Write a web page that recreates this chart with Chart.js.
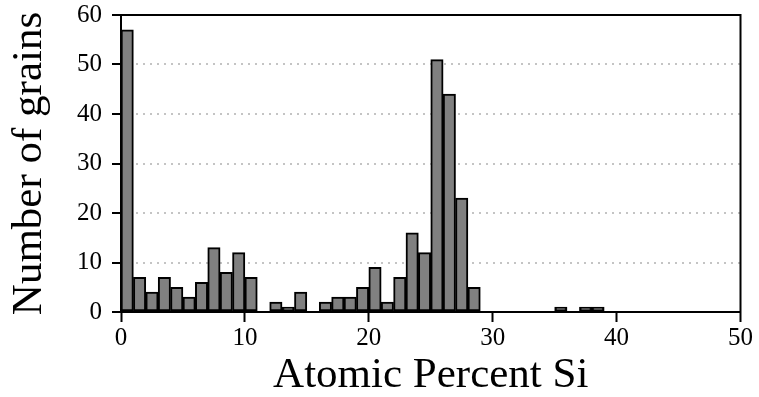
<!DOCTYPE html>
<html>
<head>
<meta charset="utf-8">
<script src="https://cdn.jsdelivr.net/npm/chart.js@4"></script>
<style>
  html, body { margin: 0; padding: 0; background: #fff; }
  #wrap { width: 759px; height: 397px; }
</style>
</head>
<body>
<div id="wrap"><canvas id="histo"></canvas></div>
<script>
// histogram bins: 1 at.% wide, from 0 to 50
const binStarts = Array.from({ length: 50 }, (_, i) => i);
const grainCounts = [
  57, 7, 4, 7, 5, 3, 6, 13, 8, 12,
  7, 0, 2, 1, 4, 0, 2, 3, 3, 5,
  9, 2, 7, 16, 12, 51, 44, 23, 5, 0,
  0, 0, 0, 0, 0, 1, 0, 1, 1, 0,
  0, 0, 0, 0, 0, 0, 0, 0, 0, 0
];
const xTicks = [0, 10, 20, 30, 40, 50];
const yTicks = [0, 10, 20, 30, 40, 50, 60];

const serif = "'Liberation Serif', 'Times New Roman', serif";

// box round the plot (top + right edges)
const frame = {
  id: 'frame',
  afterDraw(chart) {
    const { ctx, chartArea: a } = chart;
    ctx.save();
    ctx.strokeStyle = '#000';
    ctx.lineWidth = 2;
    ctx.strokeRect(a.left, a.top, a.right - a.left, a.bottom - a.top);
    ctx.restore();
  }
};

const ctx = document.getElementById('histo').getContext('2d');
new Chart(ctx, {
  type: 'bar',
  data: {
    datasets: [{
      data: binStarts.map((b, i) => ({ x: b + 0.5, y: grainCounts[i] })),
      backgroundColor: '#808080',
      borderColor: '#000',
      borderWidth: 2,
      borderSkipped: false,
      barPercentage: 1,
      categoryPercentage: 1
    }]
  },
  options: {
    responsive: true,
    maintainAspectRatio: false,
    animation: false,
    layout: { padding: { top: 14, right: 15, left: 8, bottom: 0 } },
    plugins: { legend: { display: false }, tooltip: { enabled: false } },
    scales: {
      x: {
        type: 'linear',
        min: 0,
        max: 50,
        offset: false,
        afterBuildTicks: s => { s.ticks = xTicks.map(v => ({ value: v })); },
        ticks: { color: '#000', font: { family: serif, size: 25, lineHeight: 0.8 }, padding: 6, maxRotation: 0 },
        grid: { offset: false, drawOnChartArea: false, tickLength: 10, tickColor: '#000', tickWidth: 2 },
        border: { color: '#000', width: 2 },
        title: {
          display: true,
          text: 'Atomic Percent Si',
          color: '#000',
          font: { family: serif, size: 43, lineHeight: 1 },
          padding: { top: 0, bottom: 0 }
        }
      },
      y: {
        min: 0,
        max: 60,
        afterBuildTicks: s => { s.ticks = yTicks.map(v => ({ value: v })); },
        // small lineHeight only trims the layout room kept above "60"
        ticks: { color: '#000', font: { family: serif, size: 25, lineHeight: 0.4 }, padding: 10 },
        grid: {
          color: c => (c.tick && (c.tick.value === 0 || c.tick.value === 60)) ? 'rgba(0,0,0,0)' : '#c4c4c4',
          lineWidth: 2,
          tickLength: 9,
          tickColor: '#000',
          tickWidth: 2,
          tickBorderDash: []
        },
        border: { color: '#000', width: 2, dash: [2, 5] },
        title: {
          display: true,
          text: 'Number of grains',
          color: '#000',
          font: { family: serif, size: 43, lineHeight: 1 },
          padding: { top: 0, bottom: 16 }
        }
      }
    }
  },
  plugins: [frame]
});
</script>
</body>
</html>
